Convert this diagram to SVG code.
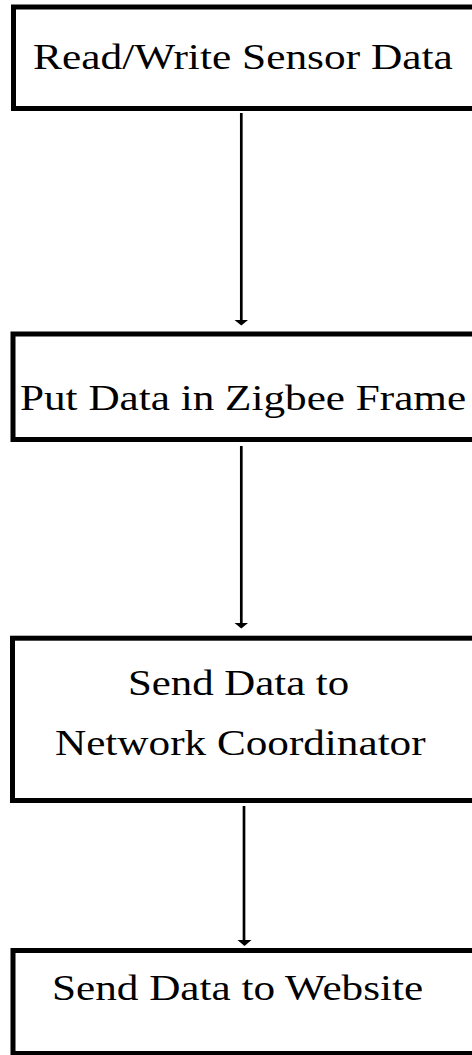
<svg xmlns="http://www.w3.org/2000/svg" width="472" height="1055" viewBox="0 0 472 1055">
<style>
.box{fill:#fff;stroke:#000;stroke-width:5}
.lbl{font-family:"Liberation Serif","Times New Roman",serif;font-size:36px;fill:#000}
.conn{stroke:#000;stroke-width:2.7;fill:none}
.head{fill:#000}
</style>
<rect width="472" height="1055" fill="#fff"/>
<g id="connectors">
<line class="conn" x1="241.3" y1="113" x2="241.3" y2="320"/>
<path class="head" d="M234.5,320 L248,320 L241.3,325.5 Z"/>
<line class="conn" x1="241.3" y1="446" x2="241.3" y2="623"/>
<path class="head" d="M234.5,623 L248,623 L241.3,628.5 Z"/>
<line class="conn" x1="244" y1="806" x2="244" y2="940"/>
<path class="head" d="M237.5,940 L251.5,940 L244.5,946 Z"/>
</g>
<g id="node1">
<rect class="box" x="13.5" y="7" width="480" height="101.5"/>
<text class="lbl" transform="translate(33,69) scale(1.205,1)">Read/Write Sensor Data</text>
</g>
<g id="node2">
<rect class="box" x="13" y="334" width="480" height="105.5"/>
<text class="lbl" transform="translate(20,410) scale(1.2,1)">Put Data in Zigbee Frame</text>
</g>
<g id="node3">
<rect class="box" x="12.5" y="638.2" width="480" height="162.3"/>
<text class="lbl" transform="translate(128,695) scale(1.19,1)">Send Data to</text>
<text class="lbl" transform="translate(55,755) scale(1.2,1)">Network Coordinator</text>
</g>
<g id="node4">
<rect class="box" x="13" y="950.5" width="480" height="103"/>
<text class="lbl" transform="translate(52,1000) scale(1.2,1)">Send Data to Website</text>
</g>
</svg>
